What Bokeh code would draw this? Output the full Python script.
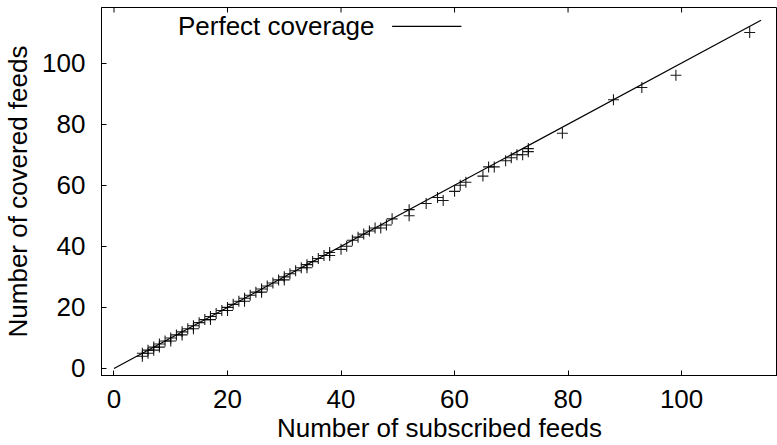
import math
from bokeh.plotting import figure
from bokeh.models import Range1d, Label, FixedTicker
from bokeh.embed import file_html
from bokeh.resources import INLINE

# Feeds subscribed per user vs. feeds actually covered
subscribed = [5, 5, 6, 6, 7, 7, 8, 8, 9, 10, 10, 11, 12, 12, 13, 14, 14, 15, 16, 17,
              17, 18, 19, 20, 20, 21, 22, 23, 23, 24, 25, 26, 26, 27, 28, 29, 30, 30,
              31, 32, 33, 34, 34, 35, 36, 37, 38, 38, 40, 41, 42, 43, 44, 45, 46, 47,
              48, 49, 52, 52, 55, 57, 58, 60, 61, 62, 65, 66, 67, 69, 70, 71, 72, 73,
              73, 79, 88, 93, 99, 112]
covered = [4, 5, 5, 6, 6, 7, 7, 8, 9, 9, 10, 11, 11, 12, 13, 13, 14, 15, 16, 16,
           17, 18, 19, 19, 20, 21, 22, 22, 23, 24, 25, 25, 26, 27, 28, 29, 29, 30,
           31, 32, 33, 33, 34, 35, 36, 37, 37, 38, 39, 40, 42, 43, 44, 45, 46, 46,
           47, 49, 52, 50, 54, 56, 55, 58, 60, 61, 63, 66, 66, 68, 69, 70, 70, 72,
           71, 77, 88, 92, 96, 110]

# Reference diagonal y = x
perfect_x = [0, 114]
perfect_y = [0, 114]

x_ticks = [0, 20, 40, 60, 80, 100]
y_ticks = [0, 20, 40, 60, 80, 100]

FONT = "Liberation Sans"
FS = "26px"

X_MIN, X_MAX = -2.2, 116.9
Y_MIN, Y_MAX = -2.3, 118.2

p = figure(width=777, height=445, output_backend="svg", toolbar_location=None,
           x_range=Range1d(X_MIN, X_MAX), y_range=Range1d(Y_MIN, Y_MAX),
           min_border_left=101, min_border_right=0, min_border_top=7,
           min_border_bottom=67)
p.background_fill_color = "white"
p.border_fill_color = "white"
p.outline_line_color = "black"
p.outline_line_width = 1
p.xgrid.visible = False
p.ygrid.visible = False

for ax, ticks, label in ((p.xaxis[0], x_ticks, "Number of subscribed feeds"),
                         (p.yaxis[0], y_ticks, "Number of covered feeds")):
    ax.ticker = FixedTicker(ticks=ticks)
    ax.axis_label = label
    ax.axis_label_text_font = FONT
    ax.axis_label_text_font_size = FS
    ax.axis_label_text_font_style = "normal"
    ax.axis_label_text_color = "black"
    ax.major_label_text_font = FONT
    ax.major_label_text_font_size = FS
    ax.major_label_text_color = "black"
    ax.major_tick_in = 5
    ax.major_tick_out = 0
    ax.minor_tick_in = 0
    ax.minor_tick_out = 0
    ax.axis_line_color = "black"
    ax.major_tick_line_color = "black"

p.xaxis[0].major_label_standoff = 14
p.xaxis[0].axis_label_standoff = 2
p.yaxis[0].major_label_standoff = 16
p.yaxis[0].axis_label_standoff = 6

# Mirrored tick marks along the top edge (half of each dash is clipped by the frame)
p.scatter(x_ticks, [Y_MAX] * len(x_ticks), marker="dash", angle=math.pi / 2,
          size=10, line_color="black", line_width=1)

p.line(perfect_x, perfect_y, line_color="black", line_width=1.2)
p.scatter(subscribed, covered, marker="cross", size=11, line_color="black",
          line_width=1.1, line_alpha=0.9)

# Key for the diagonal: text followed by a line sample
key_y = 112
p.add_layout(Label(x=45.9, y=key_y, text="Perfect coverage", text_align="right",
                   text_baseline="middle", text_font=FONT, text_font_size=FS,
                   text_color="black"))
p.line([49.0, 61.2], [key_y, key_y], line_color="black", line_width=1.2)

open("out.html", "w").write(file_html(p, INLINE))
